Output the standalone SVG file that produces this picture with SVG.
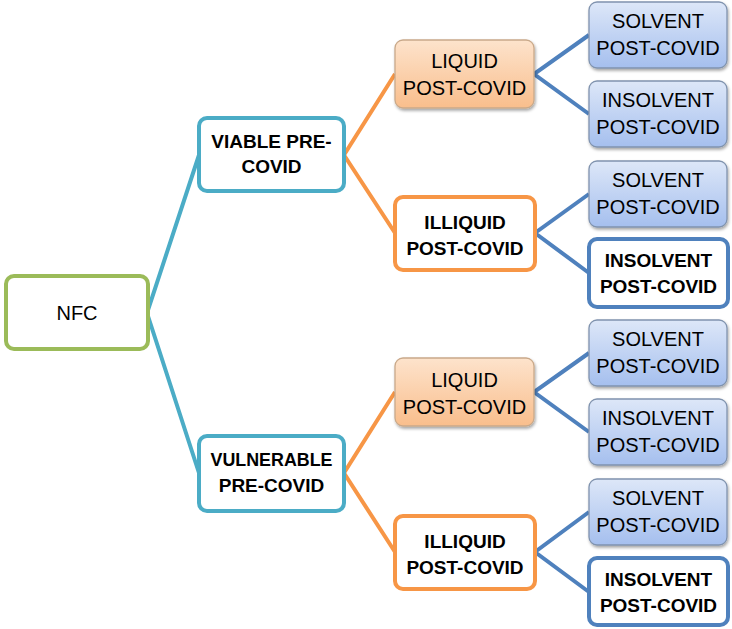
<svg xmlns="http://www.w3.org/2000/svg" width="732" height="629" viewBox="0 0 732 629">
<defs>
<linearGradient id="gBlue" x1="0" y1="0" x2="0" y2="1">
<stop offset="0" stop-color="#DDE7F8"/>
<stop offset="1" stop-color="#A5BFEE"/>
</linearGradient>
<linearGradient id="gPeach" x1="0" y1="0" x2="0" y2="1">
<stop offset="0" stop-color="#FDE3CC"/>
<stop offset="1" stop-color="#F9BE8C"/>
</linearGradient>
<filter id="sh" x="-10%" y="-10%" width="125%" height="130%">
<feDropShadow dx="1" dy="2" stdDeviation="1.5" flood-color="#000" flood-opacity="0.35"/>
</filter>
</defs>
<style>
text{font-family:"Liberation Sans",Arial,sans-serif;font-size:20px;fill:#000;text-anchor:middle}
.b{font-weight:bold;font-size:19px}
.nfc{fill:#fff;stroke:#9BBB59;stroke-width:4}
.teal{fill:#fff;stroke:#4BACC6;stroke-width:4}
.org{fill:#fff;stroke:#F79646;stroke-width:4}
.liq{fill:url(#gPeach);stroke:#C9A98A;stroke-width:1.3;filter:url(#sh)}
.sol{fill:url(#gBlue);stroke:#8093AE;stroke-width:1.3;filter:url(#sh)}
.ins{fill:#fff;stroke:#4F81BD;stroke-width:4}
.c1{stroke:#4BACC6;stroke-width:4;fill:none}
.c2{stroke:#F79646;stroke-width:4;fill:none}
.c3{stroke:#4F81BD;stroke-width:4;fill:none}
</style>
<g id="connectors">
<polyline class="c1" points="199,155 147,313 199,473"/>
<polyline class="c2" points="395,74 344,155 395,233"/>
<polyline class="c2" points="395,392 344,473 395,552"/>
<polyline class="c3" points="589,35 534,74 589,114"/>
<polyline class="c3" points="589,194 535,233 589,273"/>
<polyline class="c3" points="589,353 534,392 589,432"/>
<polyline class="c3" points="589,512 535,552 589,592"/>
</g>
<g id="nfc"><rect class="nfc" x="6" y="276" width="142" height="73" rx="8"/><text x="77" y="320">NFC</text></g>
<g id="viable"><rect class="teal" x="199" y="118" width="145" height="73" rx="8"/><text class="b" x="271.5" y="148">VIABLE PRE-</text><text class="b" x="271.5" y="173">COVID</text></g>
<g id="vulnerable"><rect class="teal" x="199" y="436" width="145" height="75" rx="8"/><text class="b" x="271.5" y="466" textLength="122" lengthAdjust="spacingAndGlyphs">VULNERABLE</text><text class="b" x="271.5" y="492">PRE-COVID</text></g>
<g id="liquid1"><rect class="liq" x="395" y="40" width="139" height="68" rx="8"/><text x="464.5" y="68">LIQUID</text><text x="464.5" y="95">POST-COVID</text></g>
<g id="illiquid1"><rect class="org" x="395" y="197" width="140" height="73" rx="8"/><text class="b" x="465" y="229">ILLIQUID</text><text class="b" x="465" y="255">POST-COVID</text></g>
<g id="liquid2"><rect class="liq" x="395" y="358" width="139" height="68" rx="8"/><text x="464.5" y="387">LIQUID</text><text x="464.5" y="414">POST-COVID</text></g>
<g id="illiquid2"><rect class="org" x="395" y="516" width="140" height="73" rx="8"/><text class="b" x="465" y="548">ILLIQUID</text><text class="b" x="465" y="574">POST-COVID</text></g>
<g id="solvent1"><rect class="sol" x="589" y="2" width="138" height="66" rx="8"/><text x="658" y="28">SOLVENT</text><text x="658" y="55">POST-COVID</text></g>
<g id="insolvent1"><rect class="sol" x="589" y="81" width="138" height="66" rx="8"/><text x="658" y="107">INSOLVENT</text><text x="658" y="134">POST-COVID</text></g>
<g id="solvent2"><rect class="sol" x="589" y="161" width="138" height="66" rx="8"/><text x="658" y="187">SOLVENT</text><text x="658" y="214">POST-COVID</text></g>
<g id="insolvent2"><rect class="ins" x="589" y="239" width="139" height="68" rx="8"/><text class="b" x="658.5" y="267">INSOLVENT</text><text class="b" x="658.5" y="293">POST-COVID</text></g>
<g id="solvent3"><rect class="sol" x="589" y="320" width="138" height="66" rx="8"/><text x="658" y="346">SOLVENT</text><text x="658" y="373">POST-COVID</text></g>
<g id="insolvent3"><rect class="sol" x="589" y="399" width="138" height="66" rx="8"/><text x="658" y="425">INSOLVENT</text><text x="658" y="452">POST-COVID</text></g>
<g id="solvent4"><rect class="sol" x="589" y="479" width="138" height="66" rx="8"/><text x="658" y="505">SOLVENT</text><text x="658" y="532">POST-COVID</text></g>
<g id="insolvent4"><rect class="ins" x="589" y="558" width="139" height="67" rx="8"/><text class="b" x="658.5" y="586">INSOLVENT</text><text class="b" x="658.5" y="612">POST-COVID</text></g>
</svg>
